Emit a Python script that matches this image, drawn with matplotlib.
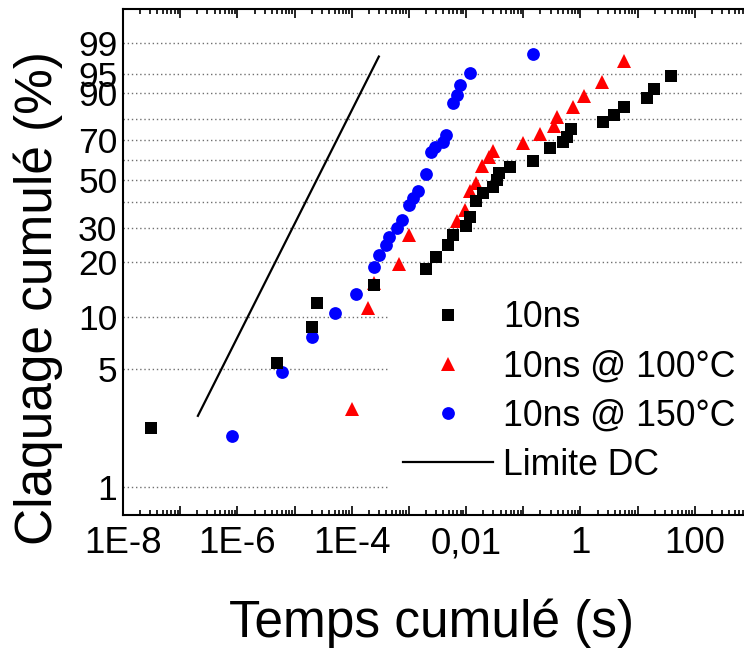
import numpy as np
import matplotlib
matplotlib.use("Agg")
import matplotlib.pyplot as plt
from matplotlib.ticker import FixedLocator, FixedFormatter, LogLocator, NullLocator
from matplotlib.lines import Line2D

plt.rcParams['font.family'] = ['Liberation Sans', 'DejaVu Sans']

# data: cumulated time (s) and cumulated breakdown (%)
t_10ns = [3.1e-8, 5.0e-6, 2.0e-5, 2.5e-5, 2.5e-4, 2.0e-3, 3.0e-3, 4.9e-3, 5.9e-3, 0.0100,
          0.0118, 0.0150, 0.0196, 0.0293, 0.0344, 0.0382, 0.0587, 0.147, 0.294, 0.490,
          0.575, 0.676, 2.45, 3.87, 5.78, 14.4, 19.4, 37.9]
p_10ns = [2.24, 5.4, 8.7, 11.9, 15.1, 18.3, 21.4, 24.7, 27.8, 30.8,
          34.0, 40.6, 43.9, 46.7, 50.1, 53.4, 56.6, 59.5, 65.9, 69.0,
          71.7, 75.5, 78.6, 81.8, 85.0, 88.3, 91.3, 94.5]

t_100C = [1.0e-4, 1.96e-4, 2.47e-4, 6.8e-4, 9.9e-4, 6.9e-3, 9.6e-3, 0.0118, 0.0150, 0.0189,
          0.0255, 0.0300, 0.098, 0.197, 0.345, 0.394, 0.752, 1.156, 2.36, 5.78]
p_100C = [2.9, 11.2, 15.4, 19.6, 27.8, 32.4, 36.6, 44.7, 48.8, 57.1,
          61.7, 64.7, 68.7, 73.0, 76.9, 81.1, 85.0, 89.1, 93.3, 97.2]

t_150C = [8.1e-7, 6.0e-6, 2.0e-5, 5.0e-5, 1.19e-4, 2.47e-4, 3.05e-4, 4.0e-4, 4.56e-4, 6.14e-4,
          7.5e-4, 1.02e-3, 1.20e-3, 1.47e-3, 2.0e-3, 2.42e-3, 2.87e-3, 3.92e-3, 4.47e-3, 5.85e-3,
          6.87e-3, 7.85e-3, 0.01175, 0.1466]
p_150C = [2.0, 4.8, 7.6, 10.5, 13.4, 18.9, 21.9, 24.7, 27.2, 30.0,
          33.0, 38.9, 41.7, 44.7, 53.0, 64.2, 66.7, 69.2, 72.6, 86.5,
          89.4, 92.4, 95.2, 98.1]

t_dc = [2.04e-7, 2.98e-4]
p_dc = [2.64, 97.8]

labels = ['10ns', '10ns @ 100°C', '10ns @ 150°C', 'Limite DC']

x_ticks = [1e-8, 1e-7, 1e-6, 1e-5, 1e-4, 1e-3, 1e-2, 1e-1, 1, 10, 100, 1000]
x_ticklabels = ['1E-8', '', '1E-6', '', '1E-4', '', '0,01', '', '1', '', '100', '']
y_ticks = [1, 5, 10, 20, 30, 40, 50, 60, 70, 80, 90, 95, 99]
y_ticklabels = ['1', '5', '10', '20', '30', '', '50', '', '70', '', '90', '95', '99']


def weib(p):
    p = np.clip(np.asarray(p, dtype=float), 1e-9, 100 - 1e-9)
    return np.log(-np.log(1 - p / 100.0))


def weib_inv(w):
    return 100.0 * (1 - np.exp(-np.exp(np.asarray(w, dtype=float))))


fig = plt.figure(figsize=(7.44, 6.5), dpi=100)
ax = fig.add_axes([123 / 744, 1 - 515 / 650, (752 - 123) / 744, (515 - 9) / 650])

ax.set_xscale('log')
ax.set_yscale('function', functions=(weib, weib_inv))
ax.set_xlim(1e-8, 1e3)
ax.set_ylim(weib_inv(-4.99), weib_inv(1.996))

ax.plot(t_150C, p_150C, 'o', color='blue', ms=9.2, mew=0, zorder=3)
ax.plot(t_100C, p_100C, '^', color='red', ms=10, mew=0, zorder=3)
ax.plot(t_10ns, p_10ns, 's', color='black', ms=8, mew=0, zorder=4)
ax.plot(t_dc, p_dc, '-', color='black', lw=1.6, zorder=3)

ax.xaxis.set_major_locator(FixedLocator(x_ticks))
ax.xaxis.set_major_formatter(FixedFormatter(x_ticklabels))
ax.xaxis.set_minor_locator(LogLocator(base=10, subs=np.arange(2, 10), numticks=100))
ax.yaxis.set_major_locator(FixedLocator(y_ticks))
ax.yaxis.set_major_formatter(FixedFormatter(y_ticklabels))
ax.yaxis.set_minor_locator(NullLocator())

ax.tick_params(axis='x', which='both', direction='in', top=True, width=1.2,
               labelsize=26.5, pad=8)
ax.tick_params(axis='x', which='major', length=6.5)
ax.tick_params(axis='x', which='minor', length=3.6)
ax.tick_params(axis='y', which='both', length=0, labelsize=25.5, pad=4)

ax.yaxis.grid(True, which='major', linestyle=(0, (1, 2)), color='#707070', lw=1.0)
ax.set_axisbelow(True)
for s in ax.spines.values():
    s.set_linewidth(1.5)

fig.text(431 / 744, 1 - 637 / 650, 'Temps cumulé (s)', fontsize=37,
         ha='center', va='baseline')
fig.text(38 / 744, 1 - 298 / 650, 'Claquage cumulé (%)', fontsize=37,
         rotation=90, ha='center', va='center')

handles = [
    Line2D([], [], marker='s', ls='none', color='black', ms=8, mew=0),
    Line2D([], [], marker='^', ls='none', color='red', ms=10, mew=0),
    Line2D([], [], marker='o', ls='none', color='blue', ms=9.2, mew=0),
    Line2D([], [], ls='-', color='black', lw=1.6),
]
leg = ax.legend(handles, labels, loc='center left',
                bbox_to_anchor=(389 / 744, 1 - 391.5 / 650), bbox_transform=fig.transFigure,
                borderaxespad=0, fontsize=25.7, frameon=True, fancybox=False, framealpha=1,
                edgecolor='none', facecolor='white', handlelength=2.5,
                handletextpad=0.3, labelspacing=0.4, borderpad=0.4, numpoints=1)
leg.set_zorder(10)

fig.savefig('out.png', dpi=100)
